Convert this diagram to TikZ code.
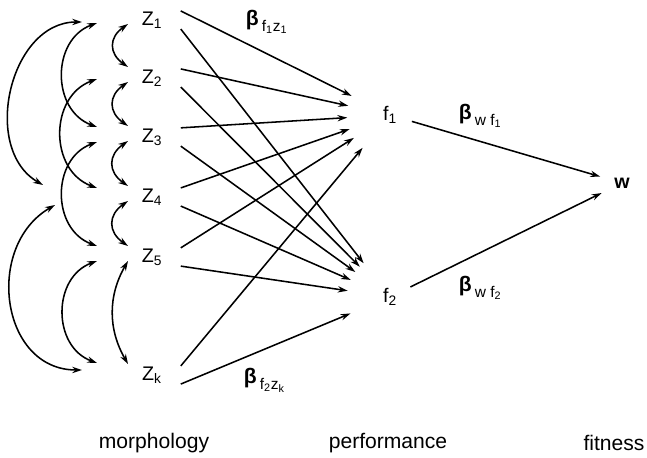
\documentclass[tikz,border=0pt]{standalone}
\usepackage{fontspec}
\setmainfont{Liberation Sans}
\usetikzlibrary{arrows.meta}

\newcommand{\coef}[1]{{\bfseries\fontsize{15}{15}\selectfont β}\,\raisebox{-0.6ex}{\fontsize{11}{11}\selectfont #1}}

\begin{document}
\begin{tikzpicture}[x=0.025cm, y=0.025cm, >={Stealth[length=7pt,width=4.5pt]}, line width=1.1pt,
    every node/.style={font=\fontsize{14}{16}\selectfont},
    zvar/.style={minimum width=1.4cm, minimum height=0.25cm, inner sep=0pt},
    fvar/.style={circle, minimum size=2.1cm, inner sep=0pt},
    fitvar/.style={circle, minimum size=1.1cm, inner sep=0pt, font=\fontsize{14}{16}\selectfont\bfseries},
    coeflabel/.style={anchor=west, inner sep=0pt},
    level/.style={font=\fontsize{15}{18}\selectfont}]
\useasboundingbox (0,0) rectangle (647,458);

% Rasgos morfologicos
\node[zvar] (z1) at (152,438) {Z\textsubscript{1}};
\node[zvar] (z2) at (152,380) {Z\textsubscript{2}};
\node[zvar] (z3) at (152,321) {Z\textsubscript{3}};
\node[zvar] (z4) at (152,261) {Z\textsubscript{4}};
\node[zvar] (z5) at (152,201) {Z\textsubscript{5}};
\node[zvar] (zk) at (152,83) {Z\textsubscript{k}};

% Rendimiento y aptitud
\node[fvar] (f1) at (390,343) {f\textsubscript{1}};
\node[fvar] (f2) at (390,161) {f\textsubscript{2}};
\node[fitvar] (w) at (622,275) {w};

% Morfologia -> rendimiento
\draw[->] (z1.north east) -- (f1);
\draw[->] (z1.south east) -- (f2);
\draw[->] (z2.north east) -- (f1);
\draw[->] (z2.south east) -- (f2);
\draw[->] (z3.north east) -- (f1);
\draw[->] (z3.south east) -- (f2);
\draw[->] (z4.north east) -- (f1);
\draw[->] (z4.south east) -- (f2);
\draw[->] (z5.north east) -- (f1);
\draw[->] (z5.south east) -- (f2);
\draw[->] (zk.north east) -- (f1);
\draw[->] (zk.south east) -- (f2);

% Rendimiento -> aptitud
\draw[->, shorten <=-0.5cm] (f1) -- (w);
\draw[->, shorten <=-0.5cm] (f2) -- (w);

% Correlaciones entre rasgos vecinos
\draw[<->] ([shift={(-24,-4)}]z1.center) to[bend right=55, looseness=1.4] ([shift={(-24,11)}]z2.center);
\draw[<->] ([shift={(-24,-4)}]z2.center) to[bend right=55, looseness=1.4] ([shift={(-24,11)}]z3.center);
\draw[<->] ([shift={(-24,-4)}]z3.center) to[bend right=55, looseness=1.4] ([shift={(-24,11)}]z4.center);
\draw[<->] ([shift={(-24,-4)}]z4.center) to[bend right=55, looseness=1.4] ([shift={(-24,11)}]z5.center);
\draw[<->] ([shift={(-24,-4)}]z5.center) to[bend right=30] ([shift={(-24,11)}]zk.center);

% Correlaciones de segundo orden
\draw[<->] ([shift={(-55,-3)}]z1.center) to[bend right=70, looseness=1.2] ([shift={(-55,10)}]z3.center);
\draw[<->] ([shift={(-55,-1)}]z2.center) to[bend right=70, looseness=1.2] ([shift={(-55,9)}]z4.center);
\draw[<->] ([shift={(-55,-5)}]z3.center) to[bend right=70, looseness=1.2] ([shift={(-55,11)}]z5.center);
\draw[<->] ([shift={(-55,-4)}]z5.center) to[bend right=70, looseness=1.2] ([shift={(-55,12)}]zk.center);

% Correlaciones lejanas
\draw[<->] ([shift={(-70,-2)}]z1.center) to[out=180, in=150, looseness=1.1] ([shift={(-109,12)}]z4.center);
\draw[<->] ([shift={(-97,-8)}]z4.center) to[out=210, in=180, looseness=1.25] ([shift={(-70,5)}]zk.center);

% Coeficientes
\node[coeflabel] (bf1z1) at (245,436) {\coef{f\textsubscript{1}z\textsubscript{1}}};
\node[coeflabel] (bwf1) at (458,342) {\coef{w f\textsubscript{1}}};
\node[coeflabel] (bwf2) at (458,170) {\coef{w f\textsubscript{2}}};
\node[coeflabel] (bf2zk) at (243,78) {\coef{f\textsubscript{2}z\textsubscript{k}}};

% Niveles
\node[level] (morph) at (154,15) {morphology};
\node[level] (perf) at (388,15) {performance};
\node[level] (fitn) at (614,15) {fitness};
\end{tikzpicture}
\end{document}
